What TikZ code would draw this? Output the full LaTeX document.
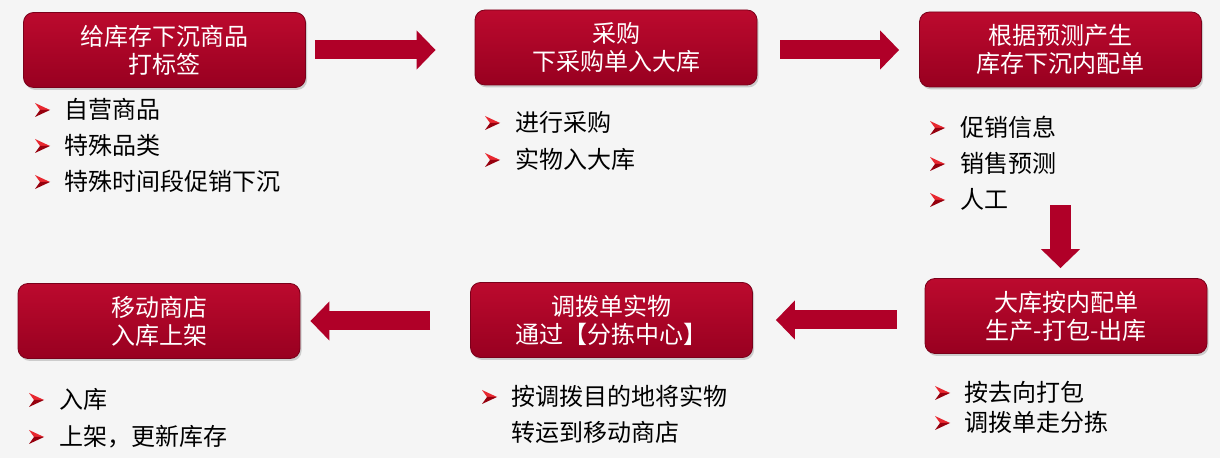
\documentclass[tikz,border=0pt]{standalone}
\usepackage{fontspec}
\usepackage{xcolor}
\usepackage{tikz}
\usetikzlibrary{arrows.meta,shadows}
\setmainfont{Noto Sans CJK SC}
\definecolor{boxtop}{RGB}{188,10,46}
\definecolor{boxbot}{RGB}{152,0,32}
\definecolor{arrred}{RGB}{176,0,40}
\definecolor{bulhi}{RGB}{232,40,48}
\definecolor{bullo}{RGB}{150,0,14}
\definecolor{bgcol}{RGB}{245,245,245}

\begin{document}
\begin{tikzpicture}[x=0.5pt, y=-0.5pt,
		stepbox/.style={rounded corners=5pt, top color=boxtop, bottom color=boxbot, draw=boxbot!80!black, line width=0.4pt,
			drop shadow={opacity=0.35, shadow xshift=0.8pt, shadow yshift=-1.2pt},
			text=white, align=center, minimum width=141pt, minimum height=37.5pt, inner sep=0pt,
			font=\fontsize{12pt}{14pt}\selectfont},
		bigarrow/.style={draw=arrred, line width=9.5pt, -{Triangle[length=9.5pt, width=19pt]}},
		item/.style={anchor=base west, inner sep=0pt, font=\fontsize{12pt}{14pt}\selectfont},
		bul/.pic={
			\fill[bulhi] (0,-7) -- (15,0) -- (5,0) -- cycle;
			\fill[bullo] (5,0) -- (15,0) -- (0,7) -- cycle;
		}]
		\fill[bgcol] (0,0) rectangle (1220,458);
		\useasboundingbox (0,0) rectangle (1220,458);

		\node[stepbox] (b1) at (164.5, 50) {给库存下沉商品\\打标签};
		\node[stepbox] (b2) at (616, 47.5) {采购\\下采购单入大库};
		\node[stepbox] (b3) at (1060.5, 49.5) {根据预测产生\\库存下沉内配单};
		\node[stepbox] (b4) at (1066, 316) {大库按内配单\\生产-打包-出库};
		\node[stepbox] (b5) at (611.5, 320) {调拨单实物\\通过【分拣中心】};
		\node[stepbox] (b6) at (159, 321) {移动商店\\入库上架};

		\draw[bigarrow, shorten <=4.5pt, shorten >=19.5pt] (b1.east) -- (b1.east -| b2.west);
		\draw[bigarrow, shorten <=11.5pt, shorten >=10pt] (b2.east |- b1.east) -- (b1.east -| b3.west);
		\draw[bigarrow, line width=10.5pt, shorten <=59pt, shorten >=5pt] (b3.south) -- (b3.south |- b4.north);
		\draw[bigarrow, shorten <=14pt, shorten >=11.5pt] (b4.west |- b5.east) -- (b5.east);
		\draw[bigarrow, shorten <=20pt, shorten >=5pt] (b5.west |- b6.east) -- (b6.east);

		\foreach \t [count=\i] in {自营商品, 特殊品类, 特殊时间段促销下沉} {
			\pic at (35, {74+36*\i}) {bul};
			\node[item] (p1-\i) at (64, {83+36*\i}) {\t};
		}
		\foreach \t [count=\i] in {进行采购, 实物入大库} {
			\pic at (485, {86+37*\i}) {bul};
			\node[item] (p2-\i) at (515, {95+37*\i}) {\t};
		}
		\foreach \t [count=\i] in {促销信息, 销售预测, 人工} {
			\pic at (930, {92+36*\i}) {bul};
			\node[item] (p3-\i) at (960, {101+36*\i}) {\t};
		}
		\foreach \t [count=\i] in {按去向打包, 调拨单走分拣} {
			\pic at (935, {363+30*\i}) {bul};
			\node[item] (p4-\i) at (964, {372+30*\i}) {\t};
		}
		\pic at (482, 397) {bul};
		\node[item] (p5-1) at (511, 406) {按调拨目的地将实物};
		\node[item] (p5-2) at (511, 442) {转运到移动商店};
		\foreach \t [count=\i] in {入库, 上架，更新库存} {
			\pic at (29, {363+37*\i}) {bul};
			\node[item] (p6-\i) at (59, {372+37*\i}) {\t};
		}
	\end{tikzpicture}
\end{document}
